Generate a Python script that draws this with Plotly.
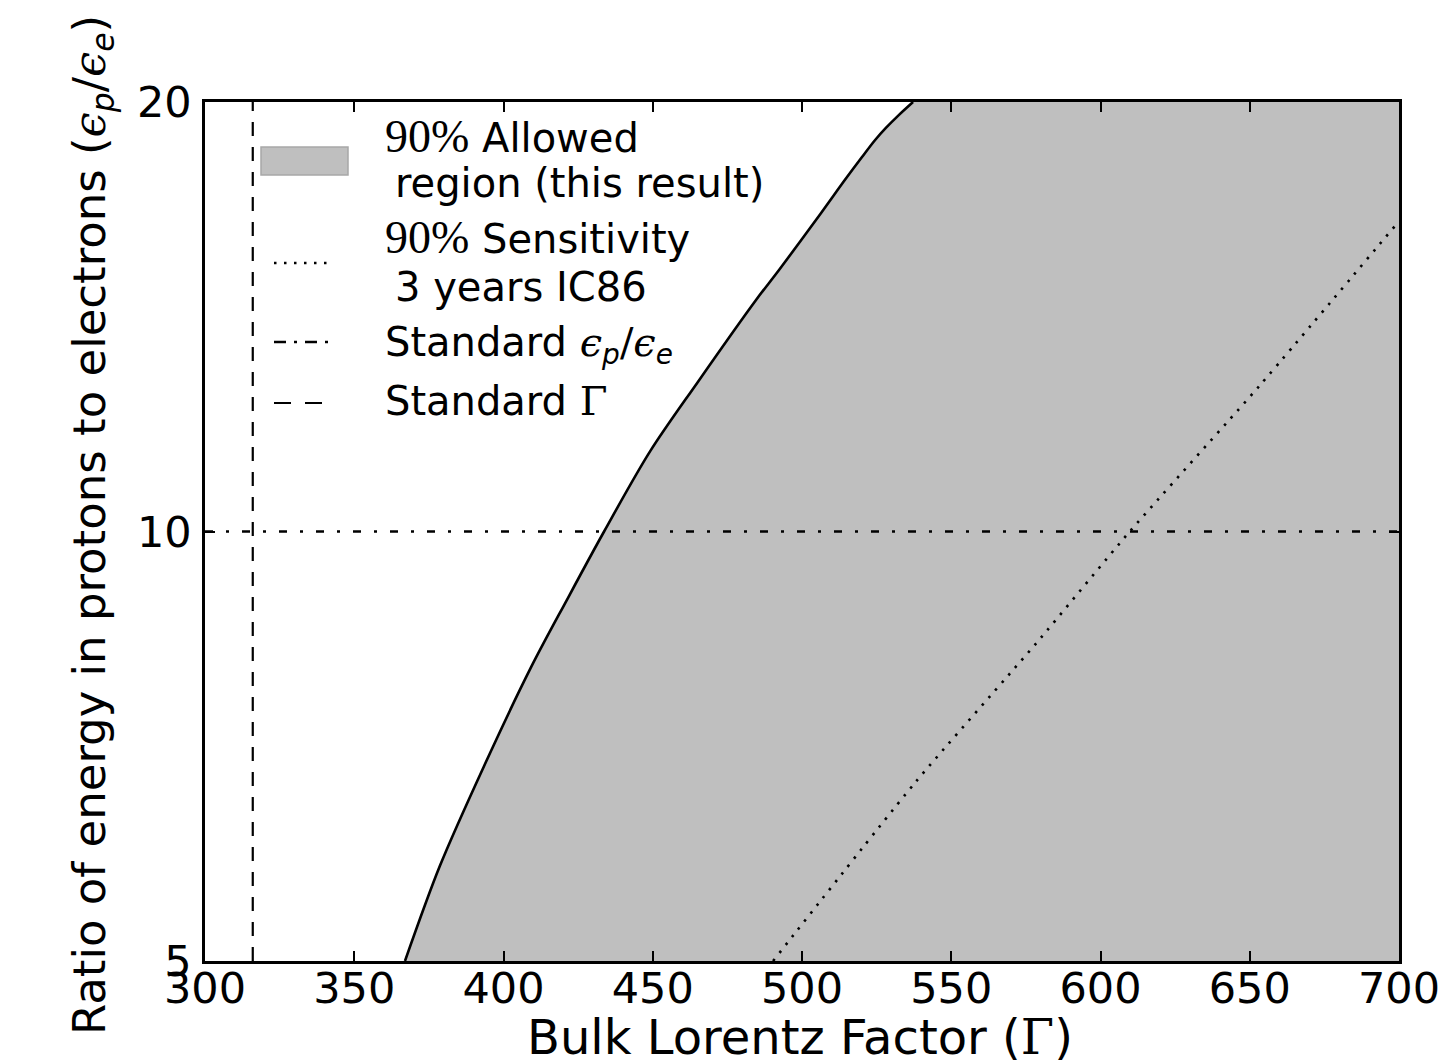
import plotly.graph_objects as go

# ---- data ----
limit_gamma = [367.0, 378.7, 393.5, 409.2, 421.3, 433.7, 449.1, 465.0, 484.6,
               492.3, 506.4, 514.4, 520.1, 524.5, 528.1, 532.5, 537.2]
limit_ratio = [5.0, 5.83, 6.85, 8.03, 8.96, 10.0, 11.38, 12.72, 14.53,
               15.25, 16.72, 17.64, 18.30, 18.81, 19.18, 19.59, 20.0]

sens_gamma = [490.3, 538.2, 578.7, 609.8, 653.1, 700.0]
sens_ratio = [5.0, 6.68, 8.36, 10.0, 12.64, 16.5]

x_range = [300, 700]
y_range = [5, 20]
standard_ratio = 10
standard_gamma = 316

x_ticks = [300, 350, 400, 450, 500, 550, 600, 650, 700]
y_ticks = [5, 10, 20]
y_tick_text = ["5", "10", "20"]

FONT = "DejaVu Sans"
GRAY = "#bfbfbf"

fig = go.Figure()

# right frame edge (invisible) so the allowed region can be filled up to it
fig.add_trace(go.Scatter(x=[x_range[1], x_range[1]], y=[y_range[0], y_range[1]],
                         mode="lines", line=dict(width=0, color="rgba(0,0,0,0)"),
                         hoverinfo="skip", showlegend=False))
# allowed region fill, bounded by the limit curve
fig.add_trace(go.Scatter(x=limit_gamma, y=limit_ratio, mode="lines",
                         fill="tonextx", fillcolor=GRAY,
                         line=dict(width=0, shape="spline", smoothing=0.9, color="rgba(0,0,0,0)"),
                         hoverinfo="skip", showlegend=False))
fig.add_trace(go.Scatter(x=limit_gamma, y=limit_ratio, mode="lines",
                         line=dict(color="black", width=2.6, shape="spline", smoothing=0.9),
                         showlegend=False))
fig.add_trace(go.Scatter(x=sens_gamma, y=sens_ratio, mode="lines",
                         line=dict(color="black", width=2.6, dash="2.5px,7.5px",
                                   shape="spline", smoothing=0.6),
                         showlegend=False))
fig.add_trace(go.Scatter(x=x_range, y=[standard_ratio, standard_ratio], mode="lines",
                         line=dict(color="black", width=2.4, dash="8px,13px,3px,13px"),
                         showlegend=False))
fig.add_trace(go.Scatter(x=[standard_gamma, standard_gamma], y=y_range, mode="lines",
                         line=dict(color="black", width=2.2, dash="14px,11px"),
                         showlegend=False))

# ---- manual legend (paper coords) ----
L, T, W, H = 205, 102, 1194, 859
def px(xp):
    return (xp - L) / W
def py(yp):
    return (T + H - yp) / H

shapes = [
    dict(type="rect", xref="paper", yref="paper", x0=px(261), x1=px(348), y0=py(175), y1=py(147),
         fillcolor=GRAY, line=dict(color="#a8a8a8", width=1.5)),
    dict(type="line", xref="paper", yref="paper", x0=px(274), x1=px(334), y0=py(263), y1=py(263),
         line=dict(color="black", width=2.6, dash="2.5px,7.5px")),
    dict(type="line", xref="paper", yref="paper", x0=px(274), x1=px(336), y0=py(342), y1=py(342),
         line=dict(color="black", width=2.4, dash="12px,8px,3px,8px")),
    dict(type="line", xref="paper", yref="paper", x0=px(274), x1=px(323), y0=py(403), y1=py(403),
         line=dict(color="black", width=2.2, dash="17px,14px")),
]

pct = "<span style='font-family:Liberation Serif;font-size:46px'>90%</span>"
eps = ("<span style='font-family:DejaVu Serif'><i>ϵ</i></span><sub><i>p</i></sub>"
       "<span style='font-family:DejaVu Serif'>/</span>"
       "<span style='font-family:DejaVu Serif'><i>ϵ</i></span><sub><i>e</i></sub>")
gam = "<span style='font-family:DejaVu Serif'>Γ</span>"

legend_lines = [
    (383, 136, pct + " Allowed"),
    (393, 183, "region (this result)"),
    (383, 238, pct + " Sensitivity"),
    (393, 287, "3 years IC86"),
    (383, 345, "Standard " + eps),
    (383, 401, "Standard " + gam),
]
annotations = []
for xp, yp, txt in legend_lines:
    annotations.append(dict(text=txt, xref="paper", yref="paper", x=px(xp), y=py(yp),
                            xanchor="left", yanchor="middle", showarrow=False,
                            font=dict(family=FONT, size=40, color="black")))

# axis titles
annotations.append(dict(text="Bulk Lorentz Factor (" + gam + ")", xref="paper", yref="paper",
                        x=px(800), y=py(1037), xanchor="center", yanchor="middle", showarrow=False,
                        font=dict(family=FONT, size=48, color="black")))
annotations.append(dict(text="Ratio of energy in protons to electrons (" + eps + ")",
                        xref="paper", yref="paper", x=px(92), y=py(525), textangle=-90,
                        xanchor="center", yanchor="middle", showarrow=False,
                        font=dict(family=FONT, size=45, color="black")))

axis_common = dict(showgrid=False, zeroline=False, showline=True, linecolor="black",
                   linewidth=2.5, mirror="ticks", ticks="inside", ticklen=10, tickwidth=1.5,
                   tickcolor="black", tickfont=dict(family=FONT, size=43, color="black"))

fig.update_layout(
    width=1451, height=1064,
    margin=dict(l=L, r=1451 - L - W, t=T, b=1064 - T - H),
    paper_bgcolor="white", plot_bgcolor="white",
    showlegend=False,
    xaxis=dict(range=x_range, tickvals=x_ticks, ticklabelstandoff=-12, **axis_common),
    yaxis=dict(type="log", range=[0.698970004, 1.301029996], tickvals=y_ticks,
               ticktext=y_tick_text, ticklabelstandoff=2, **axis_common),
    shapes=shapes, annotations=annotations,
)

fig.write_html("out.html")
